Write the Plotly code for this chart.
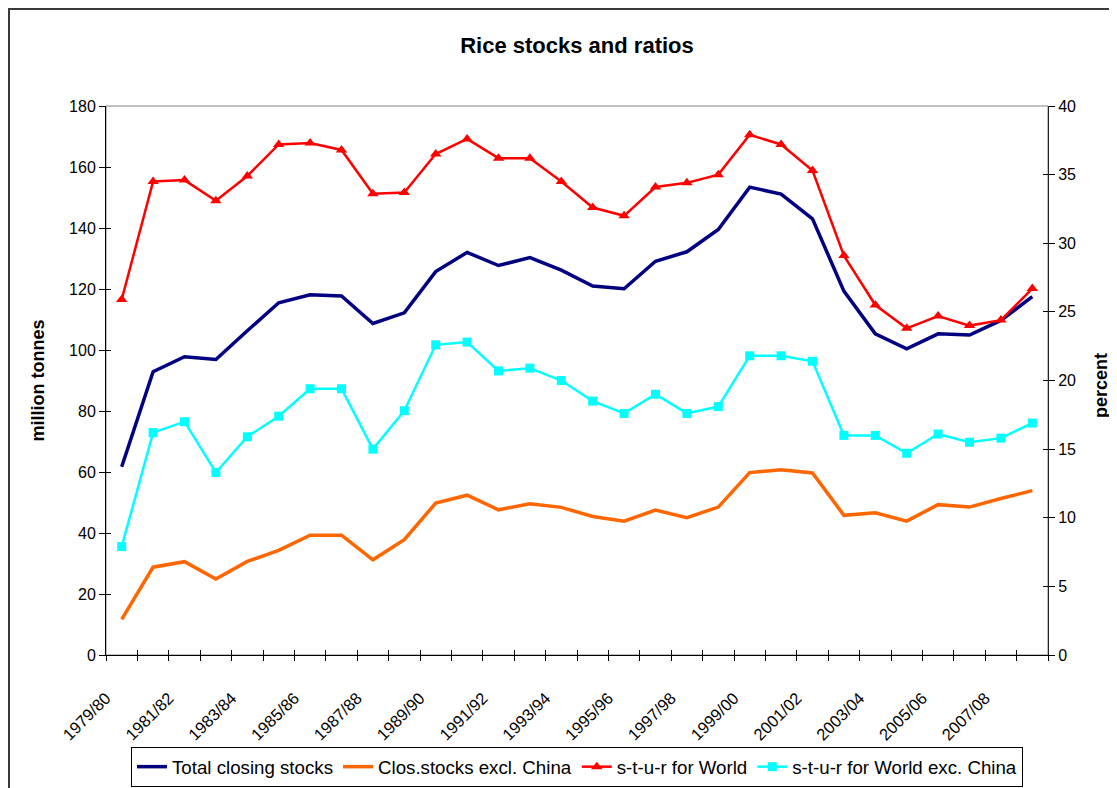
import plotly.graph_objects as go

seasons = ["1979/80", "1980/81", "1981/82", "1982/83", "1983/84", "1984/85", "1985/86",
           "1986/87", "1987/88", "1988/89", "1989/90", "1990/91", "1991/92", "1992/93",
           "1993/94", "1994/95", "1995/96", "1996/97", "1997/98", "1998/99", "1999/00",
           "2000/01", "2001/02", "2002/03", "2003/04", "2004/05", "2005/06", "2006/07",
           "2007/08", "2008/09"]

total_closing_stocks = [61.7, 92.9, 97.8, 96.9, 106.3, 115.5, 118.1, 117.7, 108.7, 112.2,
                        125.7, 132.0, 127.7, 130.3, 126.2, 121.0, 120.1, 129.1, 132.2, 139.5,
                        153.4, 151.1, 143.0, 119.3, 105.3, 100.4, 105.3, 104.9, 109.7, 117.5]

stocks_excl_china = [11.7, 28.8, 30.6, 24.9, 30.7, 34.3, 39.3, 39.3, 31.2, 37.8,
                     49.8, 52.4, 47.6, 49.6, 48.4, 45.4, 43.9, 47.5, 45.0, 48.5,
                     59.8, 60.7, 59.7, 45.8, 46.6, 43.9, 49.3, 48.5, 51.3, 53.9]

stur_world = [25.9, 34.5, 34.6, 33.1, 34.9, 37.2, 37.3, 36.8, 33.6, 33.7,
              36.5, 37.6, 36.2, 36.2, 34.5, 32.6, 32.0, 34.1, 34.4, 35.0,
              37.9, 37.2, 35.3, 29.1, 25.5, 23.8, 24.7, 24.0, 24.4, 26.7]

stur_world_exc_china = [7.9, 16.2, 17.0, 13.3, 15.9, 17.4, 19.4, 19.4, 15.0, 17.8,
                        22.6, 22.8, 20.7, 20.9, 20.0, 18.5, 17.6, 19.0, 17.6, 18.1,
                        21.8, 21.8, 21.4, 16.0, 16.0, 14.7, 16.1, 15.5, 15.8, 16.9]

label_seasons = seasons[::2]

FONT = "Liberation Sans, Arial, sans-serif"
n = len(seasons)
xpos = list(range(n))
label_pos = [seasons.index(s) for s in label_seasons]
boundaries = [i - 0.5 for i in range(n + 1)]
LABEL_SHIFT = -0.5  # Excel anchors the rotated label's upper corner left of the category centre

# the page body adds an 8px margin, so the figure is laid out 8px up/left
OFF = 8
W, H = 1117 - OFF, 788 - OFF
L, T, R, B = 106 - OFF, 106 - OFF, 69, 133
PW, PH = W - L - R, H - T - B  # 942 x 549


def px_x(x):  # reference pixel -> paper x
    return (x - 106) / PW


def px_y(y):  # reference pixel -> paper y
    return (655 - y) / PH


fig = go.Figure()
fig.add_trace(go.Scatter(x=xpos, y=total_closing_stocks, name="Total closing stocks",
                         mode="lines", line=dict(color="#000080", width=3.5)))
fig.add_trace(go.Scatter(x=xpos, y=stocks_excl_china, name="Clos.stocks excl. China",
                         mode="lines", line=dict(color="#FF6600", width=3.5)))
fig.add_trace(go.Scatter(x=xpos, y=stur_world, name="s-t-u-r for World", yaxis="y2",
                         mode="lines+markers", line=dict(color="#FF0000", width=2.5),
                         marker=dict(symbol="triangle-up", size=10, color="#FF0000")))
fig.add_trace(go.Scatter(x=xpos, y=stur_world_exc_china, name="s-t-u-r for World exc. China",
                         yaxis="y2", mode="lines+markers", line=dict(color="#00FFFF", width=2.5),
                         marker=dict(symbol="square", size=9, color="#00FFFF")))
# empty helper traces so the overlay tick axes are drawn
fig.add_trace(go.Scatter(x=[], y=[], xaxis="x3", yaxis="y3", showlegend=False, hoverinfo="skip"))
fig.add_trace(go.Scatter(x=[], y=[], xaxis="x2", yaxis="y4", showlegend=False, hoverinfo="skip"))

xr = [-0.5, n - 0.5]
noauto = dict(automargin=False)
fig.update_layout(
    width=W, height=H,
    margin=dict(l=L, r=R, t=T, b=B, autoexpand=False),
    paper_bgcolor="white", plot_bgcolor="white",
    font=dict(family=FONT, size=16, color="black"),
    title=dict(text="Rice stocks and ratios", x=0.5, xref="paper", xanchor="center",
               y=1 - (45 - OFF) / H, yref="container", yanchor="middle",
               font=dict(family=FONT, size=22, color="black", weight="bold")),
    showlegend=True,
    legend=dict(orientation="h", x=0.5, xanchor="center", y=px_y(747), yanchor="top",
                bordercolor="black", borderwidth=1, bgcolor="white",
                font=dict(family=FONT, size=18.7, color="black"), traceorder="normal"),
    xaxis=dict(range=xr, autorange=False, tickmode="array", tickvals=boundaries,
               ticks="outside", ticklen=5, tickcolor="black", tickwidth=1,
               showticklabels=False, showline=True, linecolor="black", linewidth=1,
               showgrid=False, zeroline=False, anchor="y", **noauto),
    xaxis2=dict(range=xr, autorange=False, overlaying="x", anchor="y", side="bottom",
                tickmode="array", tickvals=[p + LABEL_SHIFT for p in label_pos],
                ticktext=label_seasons,
                ticks="outside", ticklen=26, tickcolor="rgba(0,0,0,0)", tickangle=-45,
                tickfont=dict(family=FONT, size=16.5, color="black"),
                showline=False, showgrid=False, zeroline=False, **noauto),
    xaxis3=dict(range=xr, autorange=False, overlaying="x", anchor="y", side="bottom",
                tickmode="array", tickvals=boundaries, ticks="inside", ticklen=5,
                tickcolor="black", tickwidth=1, showticklabels=False,
                showline=False, showgrid=False, zeroline=False, **noauto),
    yaxis=dict(range=[0, 180], autorange=False, tickmode="linear", tick0=0, dtick=20,
               ticks="outside", ticklen=6, tickcolor="black", tickwidth=1,
               showline=True, linecolor="black", linewidth=1, showgrid=False, zeroline=False,
               tickfont=dict(family=FONT, size=16, color="black"), anchor="x", **noauto),
    yaxis3=dict(range=[0, 180], autorange=False, overlaying="y", side="left", anchor="x",
                tickmode="linear", tick0=0, dtick=20, ticks="inside", ticklen=5,
                tickcolor="black", showticklabels=False, showline=False,
                showgrid=False, zeroline=False, **noauto),
    yaxis2=dict(range=[0, 40], autorange=False, overlaying="y", side="right", anchor="x",
                tickmode="linear", tick0=0, dtick=5, ticks="outside", ticklen=6,
                tickcolor="black", tickwidth=1, showline=True, linecolor="#222222",
                linewidth=1, showgrid=False, zeroline=False,
                tickfont=dict(family=FONT, size=16, color="black"), **noauto),
    yaxis4=dict(range=[0, 40], autorange=False, overlaying="y", side="right", anchor="x",
                tickmode="linear", tick0=0, dtick=5, ticks="inside", ticklen=5,
                tickcolor="black", showticklabels=False, showline=False,
                showgrid=False, zeroline=False, **noauto),
    hovermode=False,
)

# plot-area border (grey) and outer chart border
fig.add_shape(type="rect", xref="paper", yref="paper", x0=0, x1=1, y0=0, y1=1,
              line=dict(color="#808080", width=1), layer="below")
fig.add_shape(type="rect", xref="paper", yref="paper",
              x0=px_x(9), x1=px_x(1140), y0=px_y(820), y1=px_y(9),
              line=dict(color="#3a3a3a", width=2), layer="below")

# axis titles
fig.add_annotation(text="<b>million tonnes</b>", xref="paper", yref="paper",
                   x=px_x(37), y=0.5, xanchor="center", yanchor="middle",
                   textangle=-90, showarrow=False,
                   font=dict(family=FONT, size=18, color="black"))
fig.add_annotation(text="<b>percent</b>", xref="paper", yref="paper",
                   x=px_x(1101), y=0.49, xanchor="center", yanchor="middle",
                   textangle=-90, showarrow=False,
                   font=dict(family=FONT, size=18, color="black"))

fig.write_html("out.html")
